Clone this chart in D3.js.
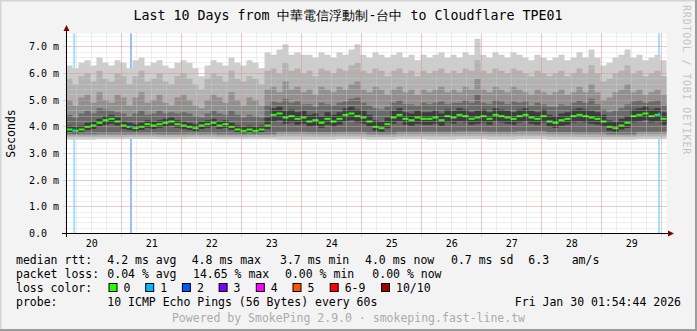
<!DOCTYPE html>
<html>
<head>
<meta charset="utf-8">
<script src="https://cdn.jsdelivr.net/npm/d3@7"></script>
<style>
body { margin: 0; background: #f3f3f3; }
svg { display: block; }
text { font-family: "DejaVu Sans Mono", monospace; }
</style>
</head>
<body>
<svg id="viz" width="697" height="331"></svg>
<script>
// 10 days of pings, 100 bins of 2.4 h each (values in ms)
const median = [
  3.90, 3.85, 3.90, 4.00, 4.05, 4.15, 4.25, 4.30, 4.20, 4.05,
  4.00, 3.95, 4.00, 4.10, 4.05, 4.10, 4.15, 4.20, 4.10, 4.05,
  4.00, 3.95, 4.05, 4.10, 4.15, 4.05, 4.10, 4.00, 3.90, 3.85,
  3.90, 3.85, 3.90, 4.05, 4.45, 4.50, 4.35, 4.40, 4.30, 4.35,
  4.20, 4.25, 4.15, 4.30, 4.20, 4.30, 4.45, 4.50, 4.40, 4.35,
  4.20, 4.00, 3.95, 4.10, 4.35, 4.45, 4.30, 4.25, 4.35, 4.30,
  4.30, 4.35, 4.25, 4.40, 4.35, 4.45, 4.40, 4.30, 4.35, 4.40,
  4.30, 4.45, 4.40, 4.35, 4.30, 4.40, 4.45, 4.35, 4.30, 4.40,
  4.20, 4.15, 4.25, 4.30, 4.40, 4.45, 4.40, 4.35, 4.30, 4.20,
  4.00, 3.95, 4.05, 4.15, 4.40, 4.45, 4.50, 4.40, 4.45, 4.30
];
const p10 = [
  6.30, 6.20, 6.40, 6.50, 6.30, 6.60, 6.40, 6.30, 6.50, 6.40,
  6.20, 6.50, 6.60, 6.30, 6.40, 6.50, 6.30, 6.20, 6.40, 6.50,
  6.40, 6.20, 5.90, 6.30, 6.50, 6.40, 6.30, 6.60, 6.40, 6.30,
  6.50, 6.40, 6.20, 6.80, 6.70, 6.90, 7.10, 6.70, 6.80, 6.70,
  6.70, 6.60, 6.80, 6.70, 6.60, 6.80, 6.70, 6.90, 7.10, 6.70,
  6.60, 6.80, 6.70, 6.60, 6.70, 6.80, 6.60, 6.70, 6.50, 6.70,
  6.60, 6.70, 6.80, 6.60, 6.70, 6.60, 6.80, 6.70, 7.30, 6.70,
  6.60, 6.80, 6.70, 6.60, 6.80, 6.70, 6.60, 6.50, 6.70, 6.60,
  6.50, 6.60, 6.70, 6.50, 6.60, 6.80, 6.60, 6.90, 6.60, 6.30,
  6.40, 6.60, 6.70, 6.90, 6.60, 6.70, 6.50, 6.60, 6.70, 6.50
];
const p9 = [
  5.80, 5.60, 5.90, 6.00, 5.70, 6.10, 5.80, 5.70, 6.00, 5.90,
  5.60, 5.90, 6.10, 5.70, 5.80, 6.00, 5.70, 5.60, 5.90, 6.00,
  5.80, 5.60, 5.40, 5.80, 6.00, 5.90, 5.70, 6.10, 5.80, 5.70,
  5.90, 5.80, 5.60, 6.10, 6.20, 6.00, 6.40, 6.10, 6.20, 6.00,
  6.10, 5.90, 6.20, 6.10, 6.00, 6.20, 6.10, 6.30, 6.40, 6.10,
  6.00, 6.20, 6.10, 5.90, 6.10, 6.20, 6.00, 6.10, 5.90, 6.10,
  6.00, 6.10, 6.20, 6.00, 6.10, 6.00, 6.20, 6.10, 6.50, 6.10,
  6.00, 6.20, 6.10, 6.00, 6.20, 6.10, 6.00, 5.90, 6.10, 6.00,
  5.90, 6.00, 6.10, 5.90, 6.00, 6.20, 6.00, 6.30, 6.00, 5.70,
  5.80, 6.00, 6.10, 6.30, 6.00, 6.10, 5.90, 6.00, 6.10, 5.90
];
const p8 = [
  5.00, 4.80, 5.10, 5.20, 4.90, 5.30, 5.00, 4.90, 5.20, 5.10,
  4.80, 5.10, 5.30, 4.90, 5.00, 5.20, 4.90, 4.80, 5.10, 5.20,
  5.00, 4.80, 4.70, 5.00, 5.20, 5.10, 4.90, 5.30, 5.00, 4.80,
  5.10, 5.00, 4.80, 5.40, 5.50, 5.30, 5.70, 5.40, 5.50, 5.30,
  5.40, 5.20, 5.50, 5.40, 5.30, 5.50, 5.40, 5.60, 5.70, 5.40,
  5.30, 5.50, 5.40, 5.20, 5.40, 5.50, 5.30, 5.40, 5.20, 5.40,
  5.30, 5.40, 5.50, 5.30, 5.40, 5.30, 5.50, 5.40, 5.80, 5.40,
  5.30, 5.50, 5.40, 5.30, 5.50, 5.40, 5.30, 5.20, 5.40, 5.30,
  5.20, 5.30, 5.40, 5.20, 5.30, 5.50, 5.30, 5.60, 5.30, 5.00,
  5.10, 5.30, 5.40, 5.60, 5.30, 5.40, 5.20, 5.30, 5.40, 5.20
];
const p7 = [
  4.45, 4.35, 4.50, 4.60, 4.50, 4.70, 4.65, 4.60, 4.55, 4.50,
  4.40, 4.50, 4.60, 4.45, 4.50, 4.60, 4.50, 4.55, 4.50, 4.55,
  4.50, 4.40, 4.35, 4.50, 4.60, 4.50, 4.45, 4.60, 4.45, 4.35,
  4.45, 4.40, 4.35, 4.80, 4.95, 4.90, 5.05, 4.90, 4.95, 4.85,
  4.85, 4.75, 4.90, 4.85, 4.80, 4.90, 4.95, 5.05, 5.10, 4.90,
  4.80, 4.70, 4.65, 4.75, 4.90, 5.00, 4.85, 4.85, 4.80, 4.90,
  4.85, 4.90, 4.95, 4.85, 4.90, 4.90, 5.00, 4.90, 5.20, 4.90,
  4.85, 5.00, 4.95, 4.85, 4.95, 4.90, 4.95, 4.80, 4.90, 4.85,
  4.75, 4.75, 4.85, 4.80, 4.90, 5.00, 4.90, 5.05, 4.85, 4.65,
  4.55, 4.60, 4.70, 4.85, 4.95, 5.00, 4.90, 4.95, 5.00, 4.80
];
const p6 = [
  4.05, 4.00, 4.05, 4.15, 4.20, 4.30, 4.40, 4.45, 4.35, 4.20,
  4.15, 4.10, 4.15, 4.25, 4.20, 4.25, 4.30, 4.35, 4.25, 4.20,
  4.15, 4.10, 4.20, 4.25, 4.30, 4.20, 4.25, 4.15, 4.05, 4.00,
  4.05, 4.00, 4.05, 4.35, 4.70, 4.75, 4.60, 4.65, 4.55, 4.60,
  4.45, 4.50, 4.40, 4.55, 4.45, 4.55, 4.70, 4.75, 4.65, 4.60,
  4.45, 4.25, 4.20, 4.35, 4.60, 4.70, 4.55, 4.50, 4.60, 4.55,
  4.55, 4.60, 4.50, 4.65, 4.60, 4.70, 4.65, 4.55, 4.60, 4.65,
  4.55, 4.70, 4.65, 4.60, 4.55, 4.65, 4.70, 4.60, 4.55, 4.65,
  4.45, 4.40, 4.50, 4.55, 4.65, 4.70, 4.65, 4.60, 4.55, 4.45,
  4.25, 4.20, 4.30, 4.40, 4.65, 4.70, 4.75, 4.65, 4.70, 4.55
];
const p5 = [
  3.80, 3.76, 3.80, 3.88, 3.92, 4.00, 4.08, 4.12, 4.05, 3.92,
  3.88, 3.84, 3.88, 3.96, 3.92, 3.96, 4.00, 4.05, 3.96, 3.92,
  3.88, 3.84, 3.92, 3.96, 4.00, 3.92, 3.96, 3.88, 3.80, 3.76,
  3.80, 3.76, 3.80, 3.92, 4.20, 4.25, 4.12, 4.16, 4.08, 4.12,
  4.00, 4.04, 3.96, 4.08, 4.00, 4.08, 4.20, 4.25, 4.16, 4.12,
  4.00, 3.85, 3.82, 3.95, 4.12, 4.20, 4.08, 4.04, 4.12, 4.08,
  4.08, 4.12, 4.04, 4.16, 4.12, 4.20, 4.16, 4.08, 4.12, 4.16,
  4.08, 4.20, 4.16, 4.12, 4.08, 4.16, 4.20, 4.12, 4.08, 4.16,
  4.00, 3.96, 4.04, 4.08, 4.16, 4.20, 4.16, 4.12, 4.08, 4.00,
  3.85, 3.82, 3.90, 3.96, 4.16, 4.20, 4.25, 4.16, 4.20, 4.08
];
// lower pings barely move: 20 half-day values
const p4 = [3.74, 3.76, 3.76, 3.75, 3.76, 3.74, 3.75, 3.82, 3.80, 3.82,
            3.76, 3.82, 3.82, 3.83, 3.82, 3.84, 3.80, 3.78, 3.74, 3.82];
const p3 = [3.68, 3.69, 3.70, 3.69, 3.70, 3.68, 3.69, 3.73, 3.72, 3.73,
            3.70, 3.73, 3.73, 3.74, 3.73, 3.74, 3.72, 3.71, 3.68, 3.73];
const p2 = [3.61, 3.62, 3.63, 3.62, 3.63, 3.61, 3.62, 3.64, 3.63, 3.64,
            3.62, 3.64, 3.64, 3.65, 3.64, 3.65, 3.63, 3.62, 3.61, 3.64];
const p1 = [3.52, 3.53, 3.54, 3.53, 3.54, 3.53, 3.53, 3.52, 3.52, 3.53,
            3.52, 3.53, 3.52, 3.53, 3.52, 3.53, 3.52, 3.52, 3.52, 3.53];

// loss events: hours after start, lost pings
const lossHours = [3.1, 25.8, 237.0];
const lossCount = [1, 2, 1];

const lossColors = ["#26ff00", "#00b8ff", "#0059ff", "#7e00ff", "#ff00ff", "#ff5500", "#ff0000", "#a10000"];
const lossLabels = ["0", "1", "2", "3", "4", "5", "6-9", "10/10"];
const smokeGrays = ["#cdcdcd", "#b2b2b2", "#909090", "#6a6a6a", "#3c3c3c"];

const titleText = "Last 10 Days from 中華電信浮動制-台中 to Cloudflare TPE01";
const rttStats = ["median rtt:", "4.2 ms avg", "4.8 ms max", "3.7 ms min", "4.0 ms now", "0.7 ms sd", "6.3", "am/s"];
const lossStats = ["packet loss:", "0.04 % avg", "14.65 % max", "0.00 % min", "0.00 % now"];
const probeText = ["probe:", "10 ICMP Echo Pings (56 Bytes) every 60s"];
const stampText = "Fri Jan 30 01:54:44 2026";
const footText = "Powered by SmokePing 2.9.0 · smokeping.fast-line.tw";

const svg = d3.select("#viz");
const W = 697, H = 331;
const plot = {left: 66.5, right: 666.5, top: 33.5, bottom: 233.5};

const start = new Date(Date.UTC(2026, 0, 20, 1, 54, 44));
const end = new Date(+start + 10 * 864e5);
const binMs = 2.4 * 36e5;

const x = d3.scaleUtc().domain([start, end]).range([plot.left, plot.right]);
const y = d3.scaleLinear().domain([0, 7.5]).range([plot.bottom, plot.top]);

// background + 3d frame
svg.append("rect").attr("width", W).attr("height", H).attr("fill", "#f3f3f3");
svg.append("path").attr("d", `M0,${H}V0H${W}`).attr("fill", "none").attr("stroke", "#d4d4d4").attr("stroke-width", 3);
svg.append("path").attr("d", `M${W},0V${H}H0`).attr("fill", "none").attr("stroke", "#9c9c9c").attr("stroke-width", 4);

svg.append("rect")
  .attr("x", plot.left).attr("y", plot.top)
  .attr("width", plot.right - plot.left).attr("height", plot.bottom - plot.top)
  .attr("fill", "#fff");

// loss background bars
lossHours.forEach((h, i) => {
  const t = new Date(+start + h * 36e5);
  svg.append("rect")
    .attr("x", x(t) - 1).attr("y", plot.top)
    .attr("width", 2).attr("height", plot.bottom - plot.top)
    .attr("fill", lossColors[lossCount[i]]).attr("opacity", 0.4);
});

// smoke
const bins = d3.range(median.length + 1);
const tOf = i => new Date(+start + i * binMs);
const at = (arr, i) => arr[Math.min(i, arr.length - 1)];
const coarse = (arr, i) => arr[Math.min(Math.floor(i / 5), arr.length - 1)];

const bands = [
  [i => coarse(p1, i), i => at(p10, i)],
  [i => coarse(p2, i), i => at(p9, i)],
  [i => coarse(p3, i), i => at(p8, i)],
  [i => coarse(p4, i), i => at(p7, i)],
  [i => at(p5, i), i => at(p6, i)]
];

bands.forEach((b, k) => {
  const area = d3.area()
    .curve(d3.curveStepAfter)
    .x(i => x(tOf(i)))
    .y0(i => y(b[0](i)))
    .y1(i => y(b[1](i)));
  svg.append("path").datum(bins).attr("d", area).attr("fill", smokeGrays[k]);
});

// median marks
svg.append("g").selectAll("rect")
  .data(median)
  .join("rect")
  .attr("x", (d, i) => x(tOf(i)))
  .attr("width", (d, i) => x(tOf(i + 1)) - x(tOf(i)))
  .attr("y", d => y(d) - 1)
  .attr("height", 2)
  .attr("fill", lossColors[0]);

lossHours.forEach((h, i) => {
  const t = new Date(+start + h * 36e5);
  const bi = Math.floor(h * 36e5 / binMs);
  svg.append("rect")
    .attr("x", x(t) - 1).attr("y", y(median[bi]) - 2)
    .attr("width", 2).attr("height", 3)
    .attr("fill", lossColors[lossCount[i]]);
});

// grid (rrdtool paints it over the graph)
const crisp = v => Math.floor(v) + 0.5;
const grid = svg.append("g");
grid.selectAll(".minx")
  .data(x.ticks(d3.utcHour.every(6)))
  .join("line")
  .attr("x1", d => crisp(x(d))).attr("x2", d => crisp(x(d)))
  .attr("y1", plot.top).attr("y2", plot.bottom + 2)
  .attr("stroke", "#d0d0d0").attr("stroke-opacity", 0.7).attr("stroke-dasharray", "1,1");
grid.selectAll(".miny")
  .data(d3.range(0.2, 7.5, 0.2))
  .join("line")
  .attr("x1", plot.left - 2).attr("x2", plot.right)
  .attr("y1", d => crisp(y(d))).attr("y2", d => crisp(y(d)))
  .attr("stroke", "#d0d0d0").attr("stroke-opacity", 0.7).attr("stroke-dasharray", "1,1");
grid.selectAll(".majx")
  .data(x.ticks(d3.utcDay))
  .join("line")
  .attr("x1", d => crisp(x(d))).attr("x2", d => crisp(x(d)))
  .attr("y1", plot.top).attr("y2", plot.bottom + 3)
  .attr("stroke", "#e07070").attr("stroke-opacity", 0.6).attr("stroke-dasharray", "1,1");
grid.selectAll(".majy")
  .data(d3.range(1, 8))
  .join("line")
  .attr("x1", plot.left - 3).attr("x2", plot.right)
  .attr("y1", d => crisp(y(d))).attr("y2", d => crisp(y(d)))
  .attr("stroke", "#e07070").attr("stroke-opacity", 0.6).attr("stroke-dasharray", "1,1");

// axes + arrows
svg.append("line").attr("x1", 62).attr("x2", 669).attr("y1", plot.bottom).attr("y2", plot.bottom).attr("stroke", "#000");
svg.append("line").attr("x1", plot.left).attr("x2", plot.left).attr("y1", 237).attr("y2", 30).attr("stroke", "#000");
svg.append("path").attr("d", "M668,230.5L674,233.5L668,236.5Z").attr("fill", "#7f0000");
svg.append("path").attr("d", "M63.5,31L66.5,25L69.5,31Z").attr("fill", "#7f0000");

// y labels
svg.append("g").selectAll("text")
  .data(d3.range(0, 8))
  .join("text")
  .attr("x", 59).attr("y", d => y(d) + 3.5)
  .attr("text-anchor", "end")
  .attr("font-size", 10)
  .style("white-space", "pre")
  .text(d => d3.format(".1f")(d) + (d === 0 ? "  " : " m"));

// x labels at noon
const noons = d3.utcDay.range(d3.utcDay.floor(start), end).map(d => d3.utcHour.offset(d, 12)).filter(d => d >= start && d <= end);
svg.append("g").selectAll("text")
  .data(noons)
  .join("text")
  .attr("x", d => x(d)).attr("y", 246.5)
  .attr("text-anchor", "middle")
  .attr("font-size", 10)
  .text(d3.utcFormat("%d"));

// titles
svg.append("text").attr("x", 348).attr("y", 19.5).attr("text-anchor", "middle")
  .attr("font-size", 13.3).text(titleText);
svg.append("text").attr("transform", "translate(14.5,133.5) rotate(-90)")
  .attr("text-anchor", "middle").attr("font-size", 11.5).text("Seconds");
svg.append("text").attr("transform", "translate(682.5,5) rotate(90)")
  .attr("font-size", 10).attr("letter-spacing", 0.8).attr("fill", "#c4c4c4")
  .text("RRDTOOL / TOBI OETIKER");

// legend
const leg = svg.append("g").attr("font-size", 11.5);
const rttX = [16, 107.3, 191.7, 280, 365, 451, 528.3, 571.7];
rttStats.forEach((s, i) => leg.append("text").attr("x", rttX[i]).attr("y", 263.5).text(s));
const lossX = [16, 107.3, 193, 285, 372.3];
lossStats.forEach((s, i) => leg.append("text").attr("x", lossX[i]).attr("y", 277.5).text(s));
leg.append("text").attr("x", 16).attr("y", 291.5).text("loss color:");
const swX = [108.5, 145.2, 181.9, 218.6, 255.8, 292.5, 329.7, 381];
lossLabels.forEach((s, i) => {
  leg.append("rect").attr("x", swX[i] + 0.5).attr("y", 283.5).attr("width", 8).attr("height", 8)
    .attr("fill", lossColors[i]).attr("stroke", "#000");
  leg.append("text").attr("x", swX[i] + 15).attr("y", 291.5).text(s);
});
leg.append("text").attr("x", 16).attr("y", 305.5).text(probeText[0]);
leg.append("text").attr("x", 107.3).attr("y", 305.5).text(probeText[1]);
leg.append("text").attr("x", 681).attr("y", 305.5).attr("text-anchor", "end").text(stampText);
leg.append("text").attr("x", 348.5).attr("y", 321.5).attr("text-anchor", "middle").attr("fill", "#ababab").text(footText);
</script>
</body>
</html>
